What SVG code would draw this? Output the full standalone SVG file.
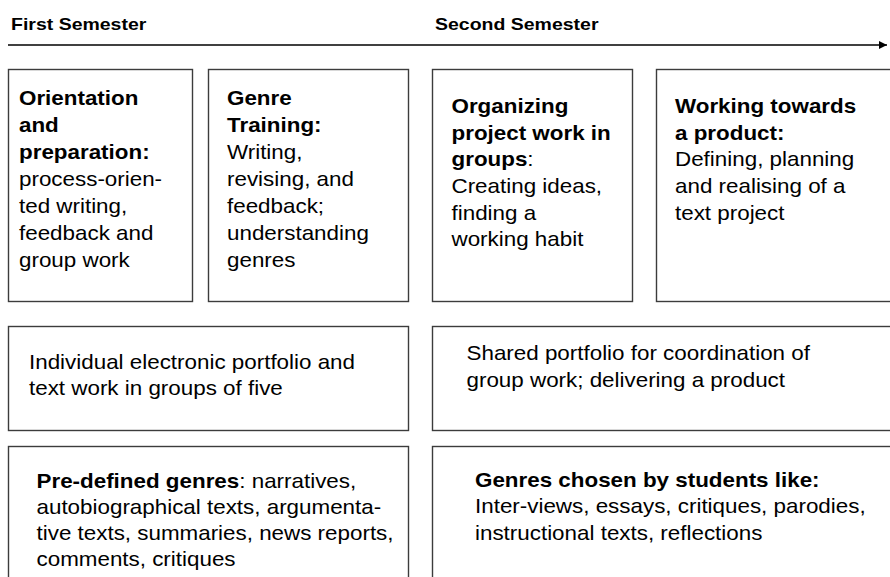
<svg xmlns="http://www.w3.org/2000/svg" width="890" height="577" viewBox="0 0 890 577">
<defs>
<style>
.box{fill:#fff;stroke:#3c3c3c;stroke-width:1.4}
text{font-family:"Liberation Sans",Arial,sans-serif;font-size:20px;fill:#000}
.b{font-weight:bold}
.hd{font-weight:bold;font-size:17.4px}
</style>
<marker id="ah" viewBox="0 0 10 10" refX="10" refY="5" markerWidth="8" markerHeight="8" markerUnits="userSpaceOnUse" orient="auto">
<path d="M0,0 L10,5 L0,10 Z" fill="#000"/>
</marker>
</defs>
<rect width="890" height="577" fill="#fff"/>
<g id="headers">
<text class="hd" transform="translate(11,30) scale(1.12,1)">First Semester</text>
<text class="hd" transform="translate(435,30) scale(1.12,1)">Second Semester</text>
</g>
<g id="connectors">
<line x1="8" y1="45" x2="887" y2="45" stroke="#000" stroke-width="1.6" marker-end="url(#ah)"/>
</g>
<g id="orientation">
<rect class="box" x="8.5" y="69.5" width="184" height="232"/>
<text transform="translate(19,105) scale(1.12,1)"><tspan class="b" x="0">Orientation</tspan><tspan class="b" x="0" dy="27">and</tspan><tspan class="b" x="0" dy="27">preparation:</tspan><tspan x="0" dy="27">process-orien-</tspan><tspan x="0" dy="27">ted writing,</tspan><tspan x="0" dy="27">feedback and</tspan><tspan x="0" dy="27">group work</tspan></text>
</g>
<g id="genre-training">
<rect class="box" x="208.5" y="69.5" width="200" height="232"/>
<text transform="translate(227,105) scale(1.12,1)"><tspan class="b" x="0">Genre</tspan><tspan class="b" x="0" dy="27">Training:</tspan><tspan x="0" dy="27">Writing,</tspan><tspan x="0" dy="27">revising, and</tspan><tspan x="0" dy="27">feedback;</tspan><tspan x="0" dy="27">understanding</tspan><tspan x="0" dy="27">genres</tspan></text>
</g>
<g id="organizing">
<rect class="box" x="432.5" y="69.5" width="200" height="232"/>
<text transform="translate(451.5,113) scale(1.12,1)"><tspan class="b" x="0">Organizing</tspan><tspan class="b" x="0" dy="26.7">project work in</tspan><tspan x="0" dy="26.7"><tspan class="b">groups</tspan>:</tspan><tspan x="0" dy="26.7">Creating ideas,</tspan><tspan x="0" dy="26.7">finding a</tspan><tspan x="0" dy="26.7">working habit</tspan></text>
</g>
<g id="product">
<rect class="box" x="656.5" y="69.5" width="260" height="232"/>
<text transform="translate(675,113) scale(1.12,1)"><tspan class="b" x="0">Working towards</tspan><tspan class="b" x="0" dy="26.7">a product:</tspan><tspan x="0" dy="26.7">Defining, planning</tspan><tspan x="0" dy="26.7">and realising of a</tspan><tspan x="0" dy="26.7">text project</tspan></text>
</g>
<g id="individual-portfolio">
<rect class="box" x="8.5" y="326.5" width="400" height="104"/>
<text transform="translate(29,369) scale(1.12,1)"><tspan x="0">Individual electronic portfolio and</tspan><tspan x="0" dy="26">text work in groups of five</tspan></text>
</g>
<g id="shared-portfolio">
<rect class="box" x="432.5" y="326.5" width="480" height="104"/>
<text transform="translate(466.5,360) scale(1.12,1)"><tspan x="0">Shared portfolio for coordination of</tspan><tspan x="0" dy="26.7">group work; delivering a product</tspan></text>
</g>
<g id="predefined-genres">
<rect class="box" x="8.5" y="446.5" width="400" height="160"/>
<text transform="translate(36.5,488) scale(1.12,1)"><tspan x="0"><tspan class="b">Pre-defined genres</tspan>: narratives,</tspan><tspan x="0" dy="26">autobiographical texts, argumenta-</tspan><tspan x="0" dy="26">tive texts, summaries, news reports,</tspan><tspan x="0" dy="26">comments, critiques</tspan></text>
</g>
<g id="chosen-genres">
<rect class="box" x="432.5" y="446.5" width="480" height="160"/>
<text transform="translate(475,487) scale(1.12,1)"><tspan class="b" x="0">Genres chosen by students like:</tspan><tspan x="0" dy="26.5">Inter-views, essays, critiques, parodies,</tspan><tspan x="0" dy="26.5">instructional texts, reflections</tspan></text>
</g>
</svg>
